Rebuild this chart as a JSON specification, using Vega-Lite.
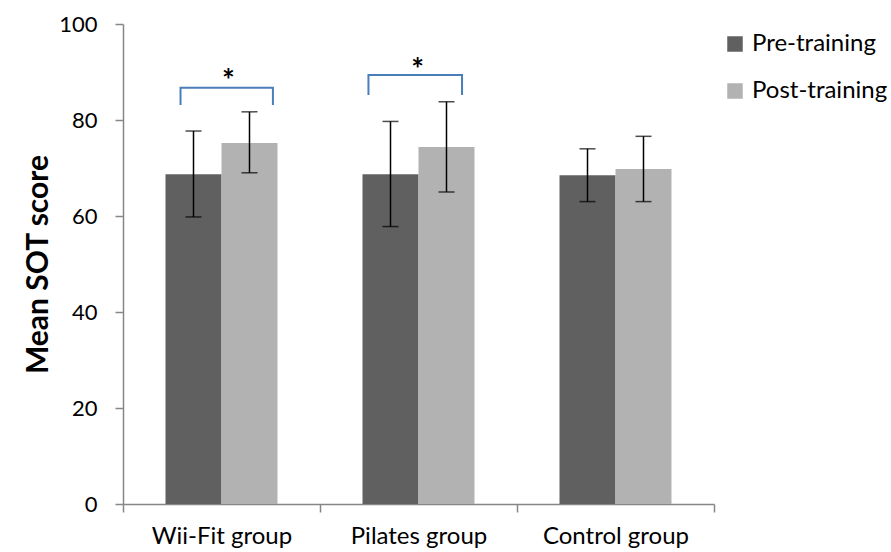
{
  "$schema": "https://vega.github.io/schema/vega-lite/v6.json",
  "width": 591,
  "height": 480,
  "autosize": {"type": "none"},
  "padding": {"left": 123, "top": 24, "right": 177, "bottom": 48},
  "background": "white",
  "config": {
    "view": {"stroke": null},
    "font": "Lato",
    "axis": {"labelFont": "Lato", "titleFont": "Lato"},
    "legend": {"labelFont": "Lato"}
  },
  "datasets": {
    "bars": [
      {"group": "Wii-Fit group", "series": "Pre-training", "mean": 68.7, "lo": 59.8, "hi": 77.7},
      {"group": "Wii-Fit group", "series": "Post-training", "mean": 75.2, "lo": 69.0, "hi": 81.7},
      {"group": "Pilates group", "series": "Pre-training", "mean": 68.7, "lo": 57.8, "hi": 79.7},
      {"group": "Pilates group", "series": "Post-training", "mean": 74.4, "lo": 65.0, "hi": 83.8},
      {"group": "Control group", "series": "Pre-training", "mean": 68.5, "lo": 63.0, "hi": 74.0},
      {"group": "Control group", "series": "Post-training", "mean": 69.8, "lo": 63.0, "hi": 76.6}
    ],
    "brackets": [
      {"group": "Wii-Fit group", "pos": 0.292, "y": 83.1, "ord": 1},
      {"group": "Wii-Fit group", "pos": 0.292, "y": 86.7, "ord": 2},
      {"group": "Wii-Fit group", "pos": 0.761, "y": 86.7, "ord": 3},
      {"group": "Wii-Fit group", "pos": 0.761, "y": 83.1, "ord": 4},
      {"group": "Pilates group", "pos": 0.246, "y": 85.2, "ord": 1},
      {"group": "Pilates group", "pos": 0.246, "y": 89.4, "ord": 2},
      {"group": "Pilates group", "pos": 0.721, "y": 89.4, "ord": 3},
      {"group": "Pilates group", "pos": 0.721, "y": 85.2, "ord": 4}
    ],
    "stars": [
      {"group": "Wii-Fit group", "pos": 0.535, "y": 87.9, "label": "*"},
      {"group": "Pilates group", "pos": 0.495, "y": 90.3, "label": "*"}
    ]
  },
  "encoding": {
    "x": {
      "field": "group",
      "type": "nominal",
      "sort": ["Wii-Fit group", "Pilates group", "Control group"],
      "scale": {"paddingInner": 0, "paddingOuter": 0},
      "axis": {
        "title": null,
        "labelAngle": 0,
        "labelFontSize": 24,
        "labelColor": "#000000",
        "labelPadding": 12,
        "domainColor": "#868686",
        "domainWidth": 1.5,
        "tickColor": "#868686",
        "tickWidth": 1.5,
        "tickSize": 8,
        "tickBand": "extent"
      }
    }
  },
  "layer": [
    {
      "layer": [
        {
          "data": {"name": "bars"},
          "mark": {"type": "bar"},
          "encoding": {
            "xOffset": {
              "field": "series",
              "type": "nominal",
              "sort": ["Pre-training", "Post-training"],
              "scale": {"paddingInner": 0, "paddingOuter": 0.759}
            },
            "y": {
              "field": "mean",
              "type": "quantitative",
              "scale": {"domain": [0, 100]},
              "axis": {
                "title": "Mean SOT score",
                "titleFontSize": 30,
                "titleFontWeight": "bold",
                "titleColor": "#000000",
                "titlePadding": 5,
                "values": [0, 20, 40, 60, 80, 100],
                "grid": false,
                "labelFontSize": 22,
                "labelColor": "#000000",
                "labelPadding": 18,
                "domainColor": "#868686",
                "domainWidth": 1.5,
                "tickColor": "#868686",
                "tickWidth": 1.5,
                "tickSize": 8
              }
            },
            "color": {
              "field": "series",
              "type": "nominal",
              "sort": ["Pre-training", "Post-training"],
              "scale": {"domain": ["Pre-training", "Post-training"], "range": ["#606060", "#b2b2b2"]},
              "legend": {
                "title": null,
                "orient": "none",
                "legendX": 600,
                "legendY": 8,
                "padding": 0,
                "symbolType": "square",
                "symbolSize": 240,
                "symbolStrokeWidth": 0,
                "labelFontSize": 24,
                "labelColor": "#000000",
                "rowPadding": 23,
                "labelOffset": 5
              }
            }
          }
        },
        {
          "data": {"name": "bars"},
          "mark": {"type": "rule", "color": "#000000", "strokeWidth": 1.5},
          "encoding": {
            "xOffset": {"field": "series", "type": "nominal", "sort": ["Pre-training", "Post-training"]},
            "y": {"field": "lo", "type": "quantitative"},
            "y2": {"field": "hi"}
          }
        },
        {
          "data": {"name": "bars"},
          "mark": {"type": "tick", "color": "#000000", "thickness": 1.5, "size": 16},
          "encoding": {
            "xOffset": {"field": "series", "type": "nominal", "sort": ["Pre-training", "Post-training"]},
            "y": {"field": "lo", "type": "quantitative"}
          }
        },
        {
          "data": {"name": "bars"},
          "mark": {"type": "tick", "color": "#000000", "thickness": 1.5, "size": 16},
          "encoding": {
            "xOffset": {"field": "series", "type": "nominal", "sort": ["Pre-training", "Post-training"]},
            "y": {"field": "hi", "type": "quantitative"}
          }
        }
      ]
    },
    {
      "layer": [
        {
          "data": {"name": "brackets"},
          "mark": {"type": "line", "color": "#4a7ebb", "strokeWidth": 2},
          "encoding": {
            "xOffset": {
              "field": "pos",
              "type": "quantitative",
              "scale": {"domain": [0, 1], "range": [0, 197]}
            },
            "y": {"field": "y", "type": "quantitative"},
            "order": {"field": "ord", "type": "quantitative"},
            "detail": {"field": "group", "type": "nominal"}
          }
        },
        {
          "data": {"name": "stars"},
          "mark": {"type": "text", "fontSize": 30, "fontWeight": "bold", "color": "#000000", "baseline": "middle", "align": "center"},
          "encoding": {
            "xOffset": {"field": "pos", "type": "quantitative"},
            "y": {"field": "y", "type": "quantitative"},
            "text": {"field": "label"}
          }
        }
      ]
    }
  ],
  "resolve": {"scale": {"xOffset": "independent"}}
}
